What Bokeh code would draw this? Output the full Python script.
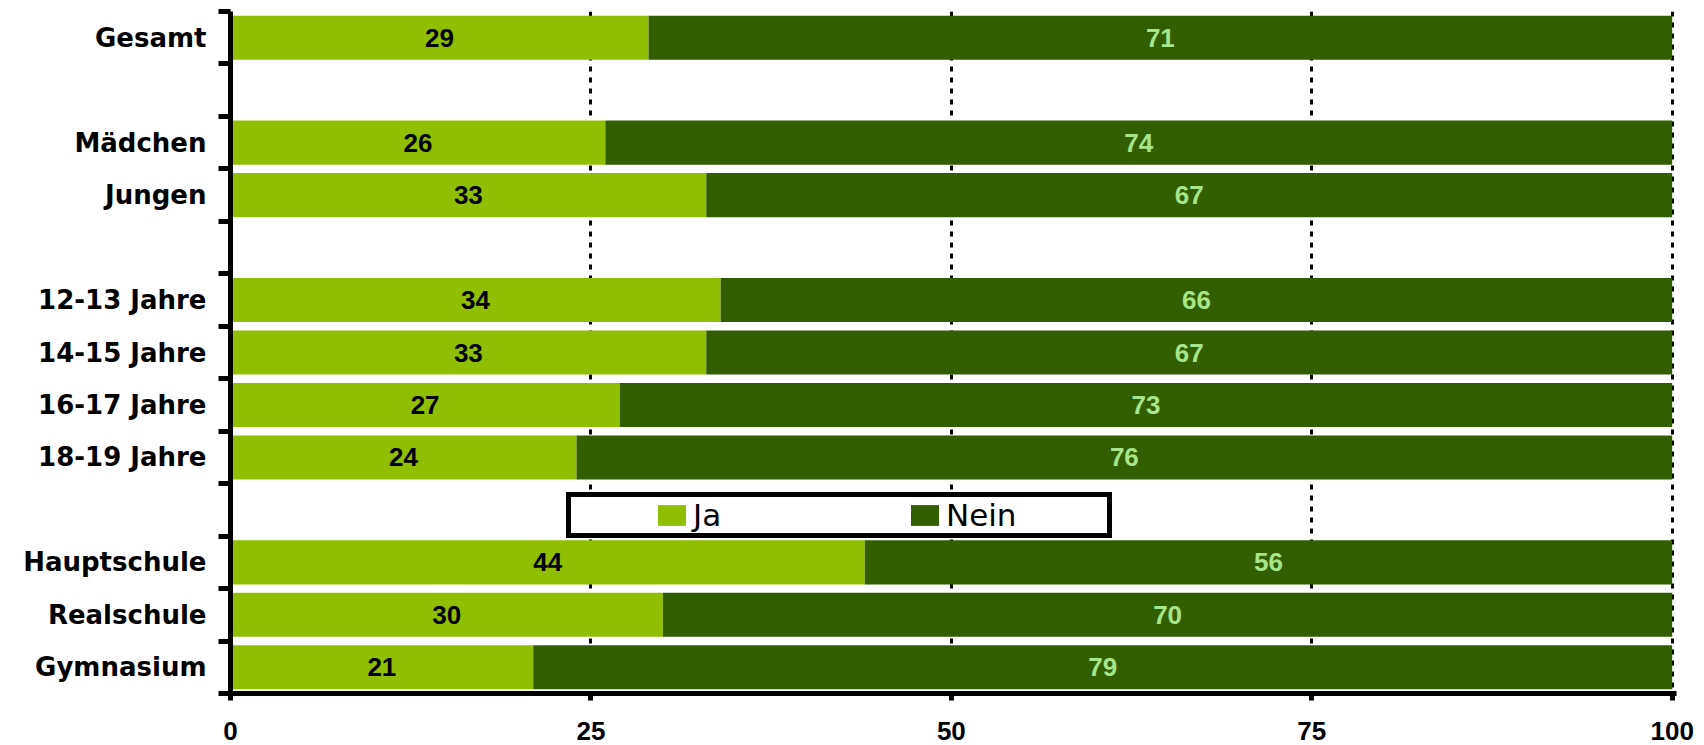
from bokeh.plotting import figure
from bokeh.models import (ColumnDataSource, Range1d, FixedTicker, LabelSet, Legend,
                          LegendItem, CustomJSTickFormatter)
from bokeh.core.properties import value
from bokeh.embed import file_html
from bokeh.resources import INLINE

categories = ["Gesamt", "", "Mädchen", "Jungen", "", "12-13 Jahre", "14-15 Jahre",
              "16-17 Jahre", "18-19 Jahre", "", "Hauptschule", "Realschule", "Gymnasium"]
ja = [29, None, 26, 33, None, 34, 33, 27, 24, None, 44, 30, 21]
nein = [71, None, 74, 67, None, 66, 67, 73, 76, None, 56, 70, 79]
x_ticks = [0, 25, 50, 75, 100]
series_names = ["Ja", "Nein"]

JA_COLOR = "#8fbf00"
NEIN_COLOR = "#335e00"
NEIN_TEXT = "#a6e589"

slot = [i + 0.5 for i in range(len(categories))]
rows = [i for i, c in enumerate(categories) if c]
src = ColumnDataSource(dict(
    y=[slot[i] for i in rows],
    ja=[ja[i] for i in rows],
    total=[ja[i] + nein[i] for i in rows],
    ja_mid=[ja[i] / 2 for i in rows],
    nein_mid=[ja[i] + nein[i] / 2 for i in rows],
    ja_txt=[str(ja[i]) for i in rows],
    nein_txt=[str(nein[i]) for i in rows],
))

p = figure(width=1704, height=745, output_backend="svg", toolbar_location=None,
           x_range=Range1d(0, 100.3), y_range=Range1d(len(categories), 0),
           min_border_left=230, min_border_right=28, min_border_top=11, min_border_bottom=52)
p.outline_line_color = None
p.background_fill_color = "white"

# grid
p.ygrid.visible = False
p.xgrid.ticker = FixedTicker(ticks=x_ticks[1:])
p.xgrid.grid_line_color = "black"
p.xgrid.grid_line_width = 3
p.xgrid.grid_line_dash = "5 6"

# bars
r_ja = p.hbar(y="y", left=0, right="ja", height=0.84, source=src,
              fill_color=JA_COLOR, line_color=None)
r_nein = p.hbar(y="y", left="ja", right="total", height=0.84, source=src,
                fill_color=NEIN_COLOR, line_color=None)

# value labels
p.add_layout(LabelSet(x="ja_mid", y="y", text="ja_txt", source=src,
                      text_align="center", text_baseline="middle",
                      text_font=value("Liberation Sans"), text_font_size="26px",
                      text_font_style="bold", text_color="black"))
p.add_layout(LabelSet(x="nein_mid", y="y", text="nein_txt", source=src,
                      text_align="center", text_baseline="middle",
                      text_font=value("Liberation Sans"), text_font_size="26px",
                      text_font_style="bold", text_color=NEIN_TEXT))

# y axis
ya = p.yaxis[0]
ya.ticker = FixedTicker(ticks=slot, minor_ticks=list(range(len(categories) + 1)))
ya.formatter = CustomJSTickFormatter(args=dict(labels=categories),
                                     code="return labels[Math.floor(tick)] || '';")
ya.axis_line_width = 5
ya.axis_line_color = "black"
ya.major_tick_out = 0
ya.major_tick_in = 0
ya.minor_tick_out = 12
ya.minor_tick_in = 0
ya.minor_tick_line_width = 5
ya.minor_tick_line_color = "black"
ya.major_label_text_font = "DejaVu Sans"
ya.major_label_text_font_size = "26px"
ya.major_label_text_font_style = "bold"
ya.major_label_text_color = "black"
ya.major_label_standoff = 12

# x axis
xa = p.xaxis[0]
xa.ticker = FixedTicker(ticks=x_ticks, minor_ticks=[])
xa.axis_line_width = 5
xa.axis_line_color = "black"
xa.major_tick_out = 7
xa.major_tick_in = 0
xa.major_tick_line_width = 5
xa.major_tick_line_color = "black"
xa.minor_tick_out = 0
xa.minor_tick_in = 0
xa.major_label_text_font = "Liberation Sans"
xa.major_label_text_font_size = "26px"
xa.major_label_text_font_style = "bold"
xa.major_label_text_color = "black"
xa.major_label_standoff = 21

legend = Legend(items=[LegendItem(label=series_names[0], renderers=[r_ja]),
                       LegendItem(label=series_names[1], renderers=[r_nein])],
                location=(336, 155), orientation="horizontal",
                glyph_width=35, glyph_height=26, label_standoff=4,
                label_width=161, spacing=53, padding=0,
                border_line_color="black", border_line_width=5, border_line_alpha=1,
                background_fill_color="white", background_fill_alpha=1,
                label_text_font="DejaVu Sans", label_text_font_size="31px",
                label_text_color="black",
                title=" ", title_location="left", title_standoff=82,
                title_text_font_size="1px", margin=0)
p.add_layout(legend)

open("out.html", "w").write(file_html(p, INLINE))
